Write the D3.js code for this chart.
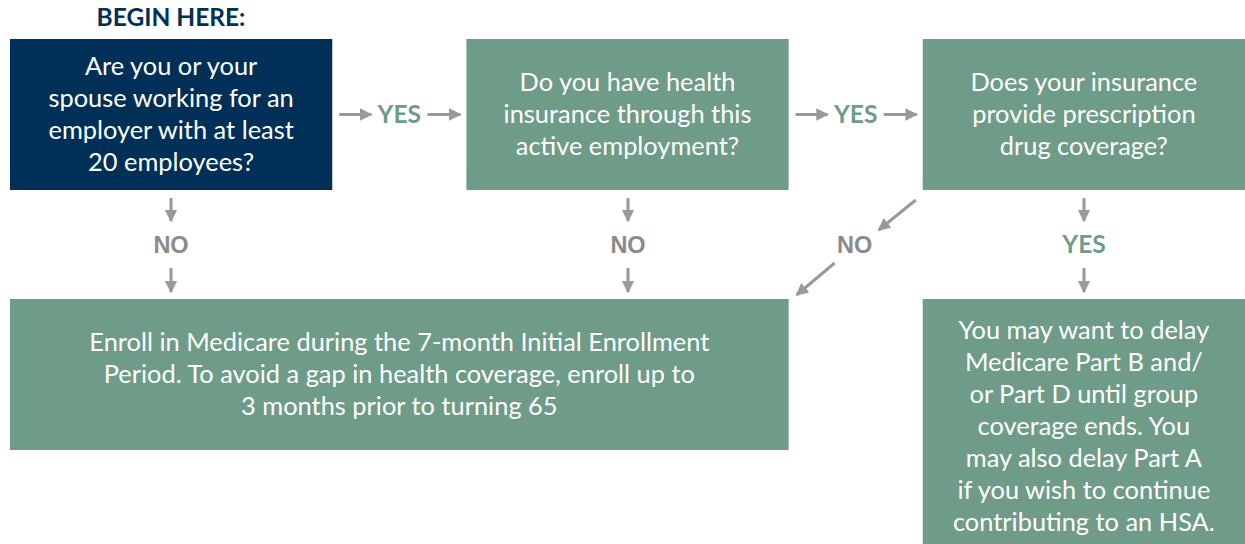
<!DOCTYPE html>
<html lang="en">
<head>
    <meta charset="UTF-8">
    <title>Medicare enrollment flowchart</title>
    <style>
        body { margin: 0; background: #fff; }
        svg { display: block; font-family: "Source Sans Pro", Lato, "Noto Sans", sans-serif; }
        .step text { fill: #fff; font-size: 25.4px; }
        .label { font-size: 24.6px; font-weight: 700; }
        .label.no { font-family: "Liberation Sans", Arial, sans-serif; font-size: 23.5px; }
        .arrow { stroke: #999; stroke-width: 3; fill: none; }
    </style>
</head>
<body>
    <svg id="chart" width="1245" height="544"></svg>
    <script src="https://d3js.org/d3.v7.min.js"></script>
    <script>
        // step ids and their text lines
        const stepIds = ["employer", "insurance", "drugs", "enroll", "delay"];
        const stepLines = [
            ["Are you or your", "spouse working for an", "employer with at least", "20 employees?"],
            ["Do you have health", "insurance through this", "active employment?"],
            ["Does your insurance", "provide prescription", "drug coverage?"],
            ["Enroll in Medicare during the 7-month Initial Enrollment", "Period. To avoid a gap in health coverage, enroll up to", "3 months prior to turning 65"],
            ["You may want to delay", "Medicare Part B and/", "or Part D until group", "coverage ends. You", "may also delay Part A", "if you wish to continue", "contributing to an HSA."]
        ];
        // grid slot of each step: [first column, last column, row]
        const stepSlots = [[0, 0, 0], [1, 1, 0], [2, 2, 0], [0, 1, 1], [2, 2, 1]];
        const linkFrom = ["employer", "insurance", "employer", "insurance", "drugs", "drugs"];
        const linkTo = ["insurance", "drugs", "enroll", "enroll", "enroll", "delay"];
        const linkLabels = ["YES", "YES", "NO", "NO", "NO", "YES"];
        const startLabel = "BEGIN HERE:";

        const navy = "#003057", green = "#6f9c88", grey = "#999", noGrey = "#8a8a8a";
        const svg = d3.select("#chart");

        const x = d3.scaleBand().domain([0, 1, 2]).range([10, 1245]).paddingInner(134 / 456).paddingOuter(0);
        const y = d3.scaleOrdinal().domain([0, 1]).range([39, 299]);
        const boxH = 151, lineH = 32;

        const steps = stepIds.map((id, i) => {
            const [c0, c1, r] = stepSlots[i];
            const x0 = x(c0), x1 = x(c1) + x.bandwidth();
            const h = id === "delay" ? 260 : boxH;
            return { id, lines: stepLines[i], x0, x1, y0: y(r), y1: y(r) + h, cx: (x0 + x1) / 2 };
        });
        const byId = new Map(steps.map(s => [s.id, s]));

        // arrow head marker
        svg.append("defs").append("marker")
            .attr("id", "head")
            .attr("viewBox", "0 0 10 10")
            .attr("refX", 9).attr("refY", 5)
            .attr("markerWidth", 4.2).attr("markerHeight", 5)
            .attr("markerUnits", "strokeWidth")
            .attr("orient", "auto")
            .append("path").attr("d", "M0,0 L10,5 L0,10 Z").attr("fill", grey);

        svg.append("text")
            .attr("x", 171).attr("y", 26)
            .attr("text-anchor", "middle")
            .attr("fill", navy)
            .attr("font-size", 24.5).attr("font-weight", 700)
            .text(startLabel);

        const g = svg.selectAll(".step").data(steps).enter().append("g").attr("class", "step");
        g.append("rect")
            .attr("x", d => d.x0).attr("y", d => d.y0)
            .attr("width", d => d.x1 - d.x0).attr("height", d => d.y1 - d.y0)
            .attr("fill", d => d.id === "employer" ? navy : green);
        g.each(function(d) {
            const top = d.id === "delay" ? 330 : d.y0 + (boxH - (d.lines.length - 1) * lineH) / 2;
            d3.select(this).selectAll("text").data(d.lines).enter().append("text")
                .attr("x", d.cx)
                .attr("y", (t, j) => top + j * lineH)
                .attr("dy", "0.35em")
                .attr("text-anchor", "middle")
                .text(t => t);
        });

        function arrow(xa, ya, xb, yb) {
            svg.append("line").attr("class", "arrow")
                .attr("x1", xa).attr("y1", ya).attr("x2", xb).attr("y2", yb)
                .attr("marker-end", "url(#head)");
        }
        function label(t, lx, ly) {
            svg.append("text").attr("class", t === "YES" ? "label" : "label no")
                .attr("x", lx).attr("y", ly).attr("dy", "0.35em")
                .attr("text-anchor", "middle")
                .attr("fill", t === "YES" ? green : noGrey)
                .text(t);
        }

        linkFrom.forEach((f, i) => {
            const a = byId.get(f), b = byId.get(linkTo[i]), t = linkLabels[i];
            if (a.y0 === b.y0) {
                // same row: horizontal
                const my = (a.y0 + a.y1) / 2;
                arrow(a.x1 + 7, my, a.x1 + 39, my);
                label(t, (a.x1 + b.x0) / 2, my);
                arrow(b.x0 - 39, my, b.x0 - 6, my);
            } else if (a.cx >= b.x0 && a.cx <= b.x1) {
                // directly below
                const mx = Math.round(a.cx);
                arrow(mx, a.y1 + 8, mx, a.y1 + 31);
                label(t, mx, (a.y1 + b.y0) / 2);
                arrow(mx, b.y0 - 31, mx, b.y0 - 7);
            } else {
                // diagonal down-left
                const lx = (a.x0 + b.x1) / 2 - 1, ly = (a.y1 + b.y0) / 2;
                arrow(a.x0 - 7, a.y1 + 10, a.x0 - 44, a.y1 + 40);
                label(t, lx, ly);
                arrow(b.x1 + 46, b.y0 - 36, b.x1 + 8, b.y0 - 4);
            }
        });
    </script>
</body>
</html>
